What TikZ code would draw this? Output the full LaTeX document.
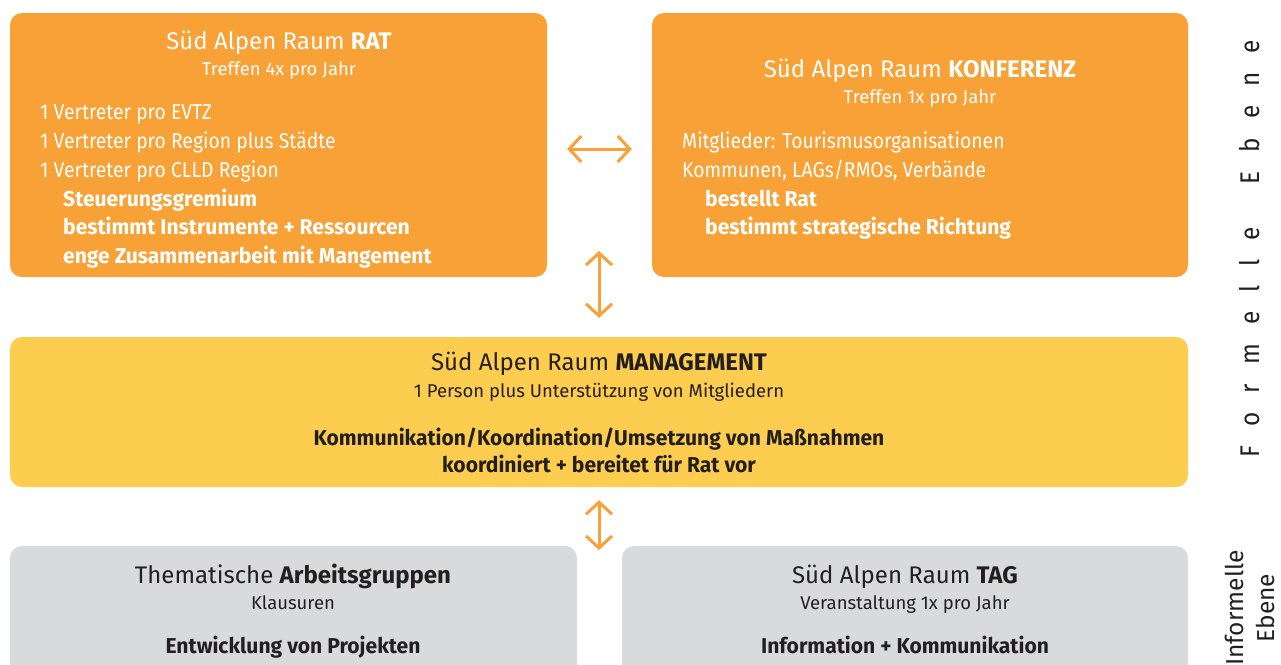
\documentclass[tikz,border=0pt]{standalone}
\usepackage{fontspec}
\setmainfont{Fira Sans}[FakeStretch=0.9, BoldFeatures={FakeStretch=0.98}]
\newfontfamily\widefam{Fira Sans}
\usetikzlibrary{arrows.meta}
\definecolor{orng}{HTML}{F8A136}
\definecolor{ylw}{HTML}{FDCD50}
\definecolor{gry}{HTML}{D9DADB}
\definecolor{ink}{HTML}{231F20}
\newcommand\fttl{\widefam\fontsize{24}{28}\selectfont}
\newcommand\fsub{\widefam\fontsize{18.5}{22}\selectfont}
\newcommand\fbdy{\fontsize{21.5}{25}\selectfont}
\newcommand\lsp{\kern19pt}
\begin{document}
\begin{tikzpicture}[x=1pt,y=-1pt,
  box/.style={rounded corners=12pt, inner sep=0pt, draw=none},
  ttl/.style={anchor=base, font=\fttl, inner sep=0pt},
  sub/.style={anchor=base, font=\fsub, inner sep=0pt},
  bdy/.style={anchor=base west, font=\fbdy, inner sep=0pt},
  bdc/.style={anchor=base, font=\fbdy\bfseries, inner sep=0pt},
  arr/.style={draw=orng, line width=3pt, {Straight Barb[length=12pt,width=26pt]}-{Straight Barb[length=12pt,width=26pt]}}]
\useasboundingbox (0,0) rectangle (1281,664);
\clip (0,0) rectangle (1281,664);
\fill[white] (0,0) rectangle (1281,664);
% boxes
\node[box, fill=orng, minimum width=537pt, minimum height=264pt] (rat) at (278.5,145) {};
\node[box, fill=orng, minimum width=536pt, minimum height=264pt] (konf) at (920,145) {};
\node[box, fill=ylw, minimum width=1178pt, minimum height=150pt] (mgmt) at (599,412) {};
\node[box, fill=gry, minimum width=567pt, minimum height=140pt] (ag) at (293.5,616) {};
\node[box, fill=gry, minimum width=566pt, minimum height=140pt] (tag) at (905,616) {};
% RAT text
\node[ttl, white] (ratT) at (279,49) {Süd Alpen Raum \textbf{RAT}};
\node[sub, white] (ratS) at (279,75) {Treffen 4x pro Jahr};
\node[bdy, white] (ratL1) at (40,119) {1 Vertreter pro EVTZ};
\node[bdy, white] (ratL2) at (40,148) {1 Vertreter pro Region plus Städte};
\node[bdy, white] (ratL3) at (40,177) {1 Vertreter pro CLLD Region};
\node[bdy, white, font=\fbdy\bfseries] (ratL4) at (63,206) {Steuerungsgremium};
\node[bdy, white, font=\fbdy\bfseries] (ratL5) at (63,234) {bestimmt Instrumente + Ressourcen};
\node[bdy, white, font=\fbdy\bfseries] (ratL6) at (63,263) {enge Zusammenarbeit mit Mangement};
% KONFERENZ text
\node[ttl, white] (konfT) at (920,77) {Süd Alpen Raum \textbf{KONFERENZ}};
\node[sub, white] (konfS) at (920,103) {Treffen 1x pro Jahr};
\node[bdy, white] (konfL1) at (682,148) {Mitglieder: Tourismusorganisationen};
\node[bdy, white] (konfL2) at (682,177) {Kommunen, LAGs/RMOs, Verbände};
\node[bdy, white, font=\fbdy\bfseries] (konfL3) at (705,206) {bestellt Rat};
\node[bdy, white, font=\fbdy\bfseries] (konfL4) at (705,234) {bestimmt strategische Richtung};
% MANAGEMENT text
\node[ttl, ink] (mgmtT) at (599,370) {Süd Alpen Raum \textbf{MANAGEMENT}};
\node[sub, ink] (mgmtS) at (599,397) {1 Person plus Unterstützung von Mitgliedern};
\node[bdc, ink] (mgmtL1) at (599,445) {Kommunikation/Koordination/Umsetzung von Maßnahmen};
\node[bdc, ink] (mgmtL2) at (599,472) {koordiniert + bereitet für Rat vor};
% Arbeitsgruppen text
\node[ttl, ink] (agT) at (293,583) {Thematische \textbf{Arbeitsgruppen}};
\node[sub, ink] (agS) at (293,609) {Klausuren};
\node[bdc, ink] (agL1) at (293,653) {Entwicklung von Projekten};
% TAG text
\node[ttl, ink] (tagT) at (905,583) {Süd Alpen Raum \textbf{TAG}};
\node[sub, ink] (tagS) at (905,609) {Veranstaltung 1x pro Jahr};
\node[bdc, ink] (tagL1) at (905,653) {Information + Kommunikation};
% side labels
\node[rotate=90, ink, font=\fontsize{27}{30}\selectfont, inner sep=0pt] (formell) at (1250,248.5)
  {F\lsp o\lsp r\lsp m\lsp e\lsp l\lsp l\lsp e\kern43pt E\lsp b\lsp e\lsp n\lsp e};
\node[rotate=90, ink, align=center, font=\widefam\fontsize{24.5}{31}\selectfont, inner sep=0pt] (inf) at (1250,608)
  {Informelle\\Ebene};
% arrows
\coordinate (a1) at (599,251);
\coordinate (a2) at (599,550);
\draw[arr, shorten <=20pt, shorten >=20pt] ([yshift=-4pt]rat.east) -- ([yshift=-4pt]konf.west);
\draw[arr, shorten >=19pt] (a1) -- (mgmt.north);
\draw[arr, shorten <=13pt] (mgmt.south) -- (a2);
\end{tikzpicture}
\end{document}
